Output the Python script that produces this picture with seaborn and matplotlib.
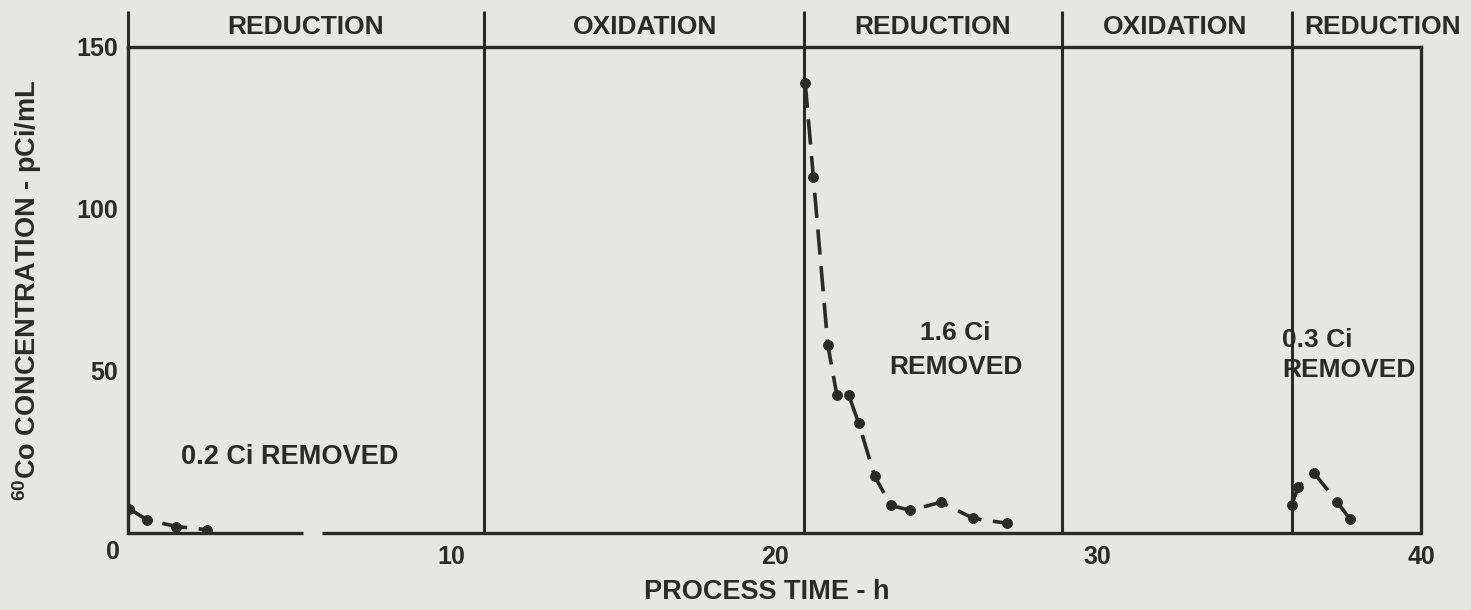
import numpy as np
import pandas as pd
import matplotlib
matplotlib.use("Agg")
import matplotlib.pyplot as plt
import matplotlib.transforms as mtransforms
import seaborn as sns

# 60Co concentration measured during each reduction step (process time in h, pCi/mL)
run1_time = [0.03, 0.6, 1.5, 2.45]
run1_conc = [7.5, 4.0, 2.0, 1.0]

run2_time = [20.95, 21.2, 21.65, 21.93, 22.3, 22.6, 23.1, 23.6, 24.2, 25.15, 26.15, 27.2]
run2_conc = [139, 110, 58, 42.5, 42.5, 34, 17.5, 8.5, 7.0, 9.5, 4.5, 3.0]

run3_time = [36.0, 36.2, 36.7, 37.4, 37.8]
run3_conc = [8.6, 14.3, 18.4, 9.7, 4.3]

# process phases: boundaries between steps and the step names
phase_bounds = [11, 20.9, 28.9, 36]
phase_names = ["REDUCTION", "OXIDATION", "REDUCTION", "OXIDATION", "REDUCTION"]
phase_label_x = [5.5, 16.0, 24.9, 32.4, 38.8]

removed_notes = ["0.2 Ci REMOVED", "1.6 Ci\nREMOVED", "0.3 Ci\nREMOVED"]

x_ticks = [10, 20, 30, 40]
y_ticks = [50, 100, 150]

INK = "#2a2a2a"
PAPER = "#e6e6e4"

sns.set_theme(style="white")
plt.rcParams["font.family"] = ["Liberation Sans", "DejaVu Sans"]
plt.rcParams["font.weight"] = "bold"
plt.rcParams["axes.labelweight"] = "bold"
plt.rcParams["mathtext.fontset"] = "custom"
plt.rcParams["mathtext.rm"] = "Liberation Sans:bold"
plt.rcParams["mathtext.default"] = "rm"
plt.rcParams["text.color"] = INK
plt.rcParams["axes.labelcolor"] = INK
plt.rcParams["xtick.color"] = INK
plt.rcParams["ytick.color"] = INK

df = pd.DataFrame({
    "time": run1_time + run2_time + run3_time,
    "conc": run1_conc + run2_conc + run3_conc,
    "run": [1] * len(run1_time) + [2] * len(run2_time) + [3] * len(run3_time),
})

fig = plt.figure(figsize=(14.71, 6.10), dpi=100, facecolor=PAPER)
ax = fig.add_axes([128 / 1471, 77 / 610, 1293 / 1471, 486 / 610])
ax.set_facecolor(PAPER)

sns.lineplot(
    data=df, x="time", y="conc", units="run", estimator=None, ax=ax,
    color=INK, linewidth=2.6, linestyle=(0, (7, 3.2)),
    marker="o", markersize=7, markeredgecolor=INK, markerfacecolor=INK,
    markeredgewidth=0.8, legend=False,
)

ax.set_xlim(0, 40)
ax.set_ylim(0, 150)

# frame: top, left and right spines; bottom axis drawn with a break
for side in ["top", "left", "right"]:
    ax.spines[side].set_color(INK)
    ax.spines[side].set_linewidth(2.4)
ax.spines["bottom"].set_visible(False)
ax.hlines([0, 0], [0, 6.0], [5.4, 40], color=INK, linewidth=2.4, clip_on=False,
          capstyle="butt")

# phase boundaries and left axis rise above the frame to the phase headers
ax.vlines([0] + phase_bounds, 0, 161, color=INK, linewidth=2.2, clip_on=False)
for xp, name in zip(phase_label_x, phase_names):
    ax.text(xp, 156.2, name, ha="center", va="center", fontsize=19, clip_on=False)

ax.set_xticks(x_ticks)
ax.set_xticklabels([str(t) for t in x_ticks])
ax.set_yticks(y_ticks)
ax.set_yticklabels([str(t) for t in y_ticks])
ax.tick_params(axis="x", direction="in", length=13, width=2, pad=9, labelsize=18)
ax.tick_params(axis="y", direction="in", length=15, width=2, pad=7, labelsize=18)

# shared origin label
origin = mtransforms.offset_copy(ax.transData, fig=fig, x=-15, y=-19, units="dots")
ax.text(0, 0, "0", transform=origin, ha="center", va="center", fontsize=18,
        clip_on=False)

ax.set_xlabel("PROCESS TIME - h", fontsize=19.5, va="center")
ax.xaxis.set_label_coords(0.494, -0.121)
ax.set_ylabel(r"$^{60}$Co CONCENTRATION - pCi/mL", fontsize=19.5,
              ha="center", va="center")
ax.yaxis.set_label_coords(-0.078, 0.5)

ax.text(5.0, 23.5, removed_notes[0], ha="center", va="center", fontsize=19.5)
ax.text(25.6, 56.5, removed_notes[1], ha="center", va="center", fontsize=19,
        linespacing=1.5)
ax.text(35.7, 55.0, removed_notes[2], ha="left", va="center", fontsize=19,
        linespacing=1.3)

fig.savefig("out.png", dpi=100, facecolor=PAPER)
